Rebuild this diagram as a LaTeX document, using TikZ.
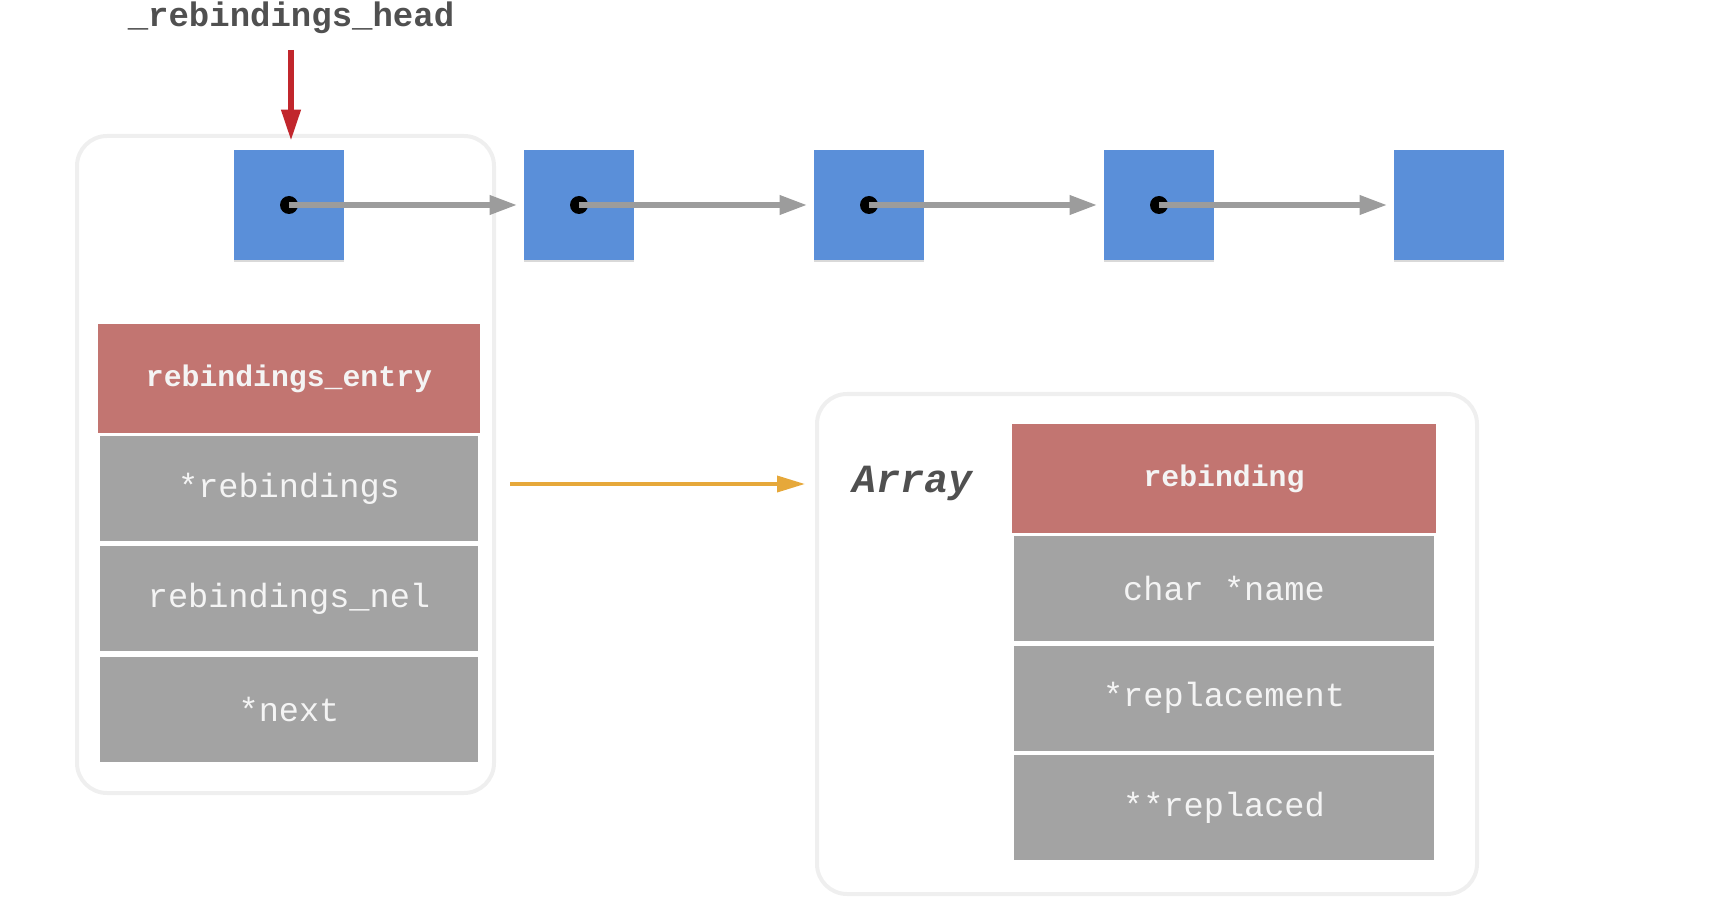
\documentclass[tikz,border=0pt]{standalone}
\usepackage{fontspec}
\setmonofont{Liberation Mono}
\usetikzlibrary{arrows.meta,shadows}
\definecolor{blu}{HTML}{5A8FD9}
\definecolor{hdr}{HTML}{C27571}
\definecolor{row}{HTML}{A3A3A3}
\definecolor{rowtxt}{HTML}{F4F4F4}
\definecolor{frame}{HTML}{EFEFEF}
\definecolor{arrgray}{HTML}{9C9C9C}
\definecolor{redarr}{HTML}{C1262C}
\definecolor{orarr}{HTML}{E6A83A}
\definecolor{titlegray}{HTML}{505050}
\tikzset{
  sq/.style={fill=blu, minimum size=55pt, inner sep=0pt,
    drop shadow={shadow xshift=0pt, shadow yshift=-1.2pt, opacity=0.15, fill=black}},
  dotnode/.style={circle, fill=black, minimum size=9pt, inner sep=0pt},
  hdrbox/.style={fill=hdr, minimum height=54.5pt, inner sep=0pt, text=rowtxt,
    font=\ttfamily\bfseries\fontsize{14.9}{17}\selectfont},
  rowbox/.style={fill=row, minimum height=52.5pt, inner sep=0pt, text=rowtxt,
    font=\ttfamily\fontsize{16.8}{19}\selectfont},
  framebox/.style={draw=frame, line width=2pt, rounded corners=15pt},
  link/.style={draw=arrgray, line width=3.2pt, -{Triangle[length=14pt,width=9pt]}, shorten >=3pt},
}
\begin{document}
\begin{tikzpicture}[x=0.5pt,y=-0.5pt]
\useasboundingbox (0,0) rectangle (1712,898);
% frames
\draw[framebox] (77,136) rectangle (494,793);
\draw[framebox] (817,394) rectangle (1477,894);
% list squares
\foreach \i/\x in {1/289,2/579,3/869,4/1159,5/1449}{
  \node[sq] (s\i) at (\x,205) {};
}
\foreach \i in {1,2,3,4}{
  \node[dotnode] (d\i) at (s\i.center) {};
}
\foreach \i/\j in {1/2,2/3,3/4,4/5}{
  \draw[link] (d\i.center) -- (s\j.west);
}
% title and head pointer
\node[font=\ttfamily\bfseries\fontsize{17}{20}\selectfont, text=titlegray] (title) at (291,18) {\_rebindings\_head};
\coordinate (headstart) at (291,50);
\draw[draw=redarr, line width=3.4pt, -{Triangle[length=16pt,width=9pt]}, shorten >=4pt] (headstart) -- (headstart |- s1.north);
% rebindings_entry struct
\node[hdrbox, minimum width=191pt] (eh) at (289,378.5) {rebindings\_entry};
\node[rowbox, minimum width=189pt] (e1) at (289,488.5) {*rebindings};
\node[rowbox, minimum width=189pt] (e2) at (289,598.5) {rebindings\_nel};
\node[rowbox, minimum width=189pt] (e3) at (289,709) {*next};
% rebinding array
\node[font=\ttfamily\bfseries\itshape\fontsize{20}{24}\selectfont, text=titlegray] (arr) at (912,483) {Array};
\node[hdrbox, minimum width=212pt] (rh) at (1224,478.5) {rebinding};
\node[rowbox, minimum width=210pt] (r1) at (1224,588.5) {char *name};
\node[rowbox, minimum width=210pt] (r2) at (1224,698) {*replacement};
\node[rowbox, minimum width=210pt] (r3) at (1224,807.5) {**replaced};
% pointer arrow
\coordinate (ostart) at (510,484);
\coordinate (oend) at (805,484);
\draw[draw=orarr, line width=1.8pt, -{Triangle[length=14pt,width=8pt]}] (ostart) -- (oend);
\end{tikzpicture}
\end{document}
